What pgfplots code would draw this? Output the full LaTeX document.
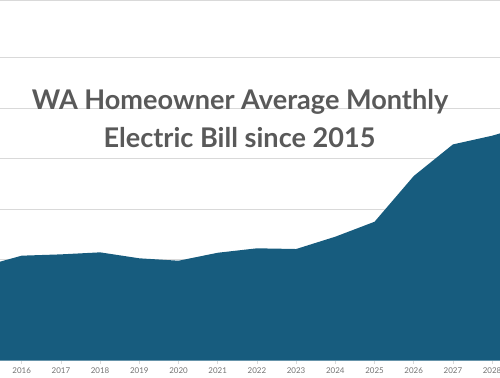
\documentclass[border=0pt]{standalone}
\usepackage{pgfplots}
\pgfplotsset{compat=1.18}
\usepackage{fontspec}
\setmainfont{Lato}
\definecolor{fillc}{RGB}{23,92,126}
\definecolor{gridc}{RGB}{217,217,217}
\definecolor{titlec}{RGB}{89,89,89}
\definecolor{tickc}{RGB}{115,115,115}
\begin{document}
\begin{tikzpicture}[trim axis left, trim axis right]
\begin{axis}[
  width=500bp, height=360.5bp, scale only axis,
  xmin=2015.446, xmax=2028.2,
  ymin=0, ymax=357,
  axis line style={draw=none},
  ytick={50,100,...,300}, yticklabels={},
  ymajorgrids, grid style={gridc, line width=0.8pt},
  ytick style={draw=none},
  xtick={2016,...,2028},
  xtick pos=bottom, tick align=outside,
  major tick length=3bp,
  xtick style={gridc, line width=0.6pt},
  /pgf/number format/assume math mode=true,
  xticklabel style={/pgf/number format/1000 sep={}, font=\fontsize{8}{9}\selectfont, text=tickc, yshift=-1bp},
  clip=true,
]
\addplot[fill=fillc, draw=none] coordinates {
(2015,93.1) (2016,103.8) (2017,105.1) (2018,107.1) (2019,101.2) (2020,98.8)
(2021,106.7) (2022,111.1) (2023,110.4) (2024,122.6) (2025,137.4)
(2026,182.7) (2027,214.0) (2028,222.6) (2029,234.0)
} \closedcycle;
\draw[gridc, line width=0.8pt] (rel axis cs:0,1) -- (rel axis cs:1,1);
\node[anchor=base, font=\bfseries\fontsize{27.2}{30}\selectfont, text=titlec] at (rel axis cs:0.48,0.6949) {WA Homeowner Average Monthly};
\node[anchor=base, font=\bfseries\fontsize{27.2}{30}\selectfont, text=titlec] at (rel axis cs:0.479,0.5895) {Electric Bill since 2015};
\end{axis}
\end{tikzpicture}
\end{document}
